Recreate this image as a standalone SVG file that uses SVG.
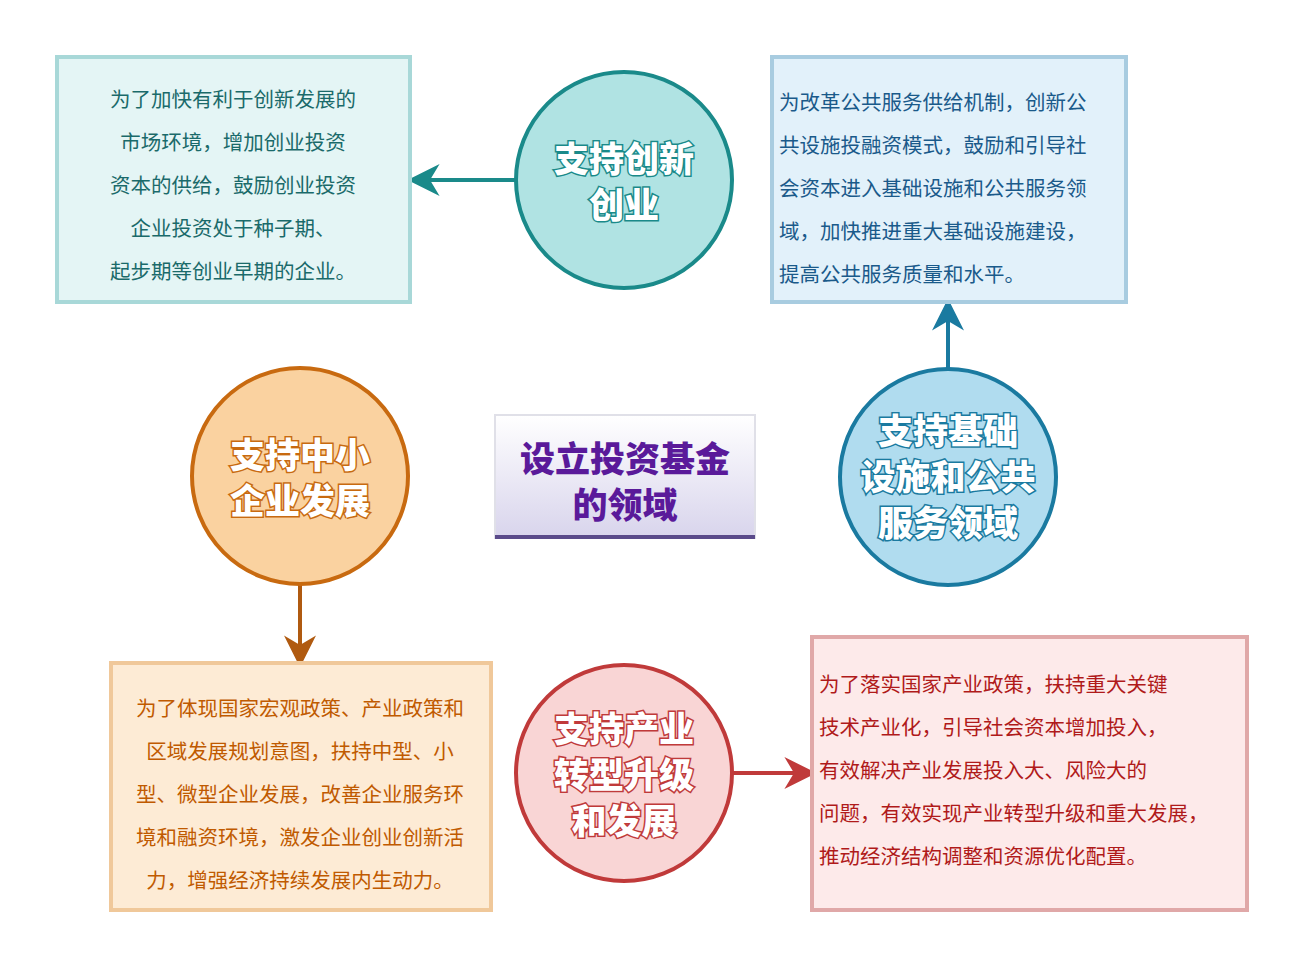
<svg xmlns="http://www.w3.org/2000/svg" width="1301" height="964" viewBox="0 0 1301 964">
<style>
.bt{font-family:"Noto Sans CJK SC","Liberation Serif",serif;font-size:20.5px}
.ct{font-family:"Noto Sans CJK SC",sans-serif;font-size:35px;font-weight:900;fill:#fff;stroke-width:3;paint-order:stroke;text-anchor:middle}
</style>
<defs>
<linearGradient id="gc" x1="0" y1="0" x2="0" y2="1"><stop offset="0" stop-color="#fff"/><stop offset="1" stop-color="#d8d4ec"/></linearGradient>
<marker id="m1" viewBox="0 0 10 10" refX="8" refY="5" markerWidth="8" markerHeight="8" orient="auto"><path d="M0 0L10 5L0 10L3 5z" fill="#1a8a8a"/></marker>
<marker id="m2" viewBox="0 0 10 10" refX="8" refY="5" markerWidth="8" markerHeight="8" orient="auto"><path d="M0 0L10 5L0 10L3 5z" fill="#1a7aa0"/></marker>
<marker id="m3" viewBox="0 0 10 10" refX="8" refY="5" markerWidth="8" markerHeight="8" orient="auto"><path d="M0 0L10 5L0 10L3 5z" fill="#b05a10"/></marker>
<marker id="m4" viewBox="0 0 10 10" refX="8" refY="5" markerWidth="8" markerHeight="8" orient="auto"><path d="M0 0L10 5L0 10L3 5z" fill="#c03a3a"/></marker>
</defs>
<rect width="1301" height="964" fill="#fff"/>
<g id="connectors" stroke-width="4" fill="none">
<line x1="516" y1="180" x2="414" y2="180" stroke="#1a8a8a" marker-end="url(#m1)"/>
<line x1="948" y1="368" x2="948" y2="305" stroke="#1a7aa0" marker-end="url(#m2)"/>
<line x1="300" y1="585" x2="300" y2="661" stroke="#b05a10" marker-end="url(#m3)"/>
<line x1="733" y1="773" x2="810" y2="773" stroke="#c03a3a" marker-end="url(#m4)"/>
</g>
<g id="box1"><rect x="57" y="57" width="353" height="245" fill="#e4f5f5" stroke="#a8d8d8" stroke-width="4"/>
<g class="bt" fill="#1a6a6a" text-anchor="middle"><text x="233" y="107">为了加快有利于创新发展的</text><text x="233" y="150">市场环境，增加创业投资</text><text x="233" y="193">资本的供给，鼓励创业投资</text><text x="233" y="236">企业投资处于种子期、</text><text x="233" y="279">起步期等创业早期的企业。</text></g></g>
<g id="c1"><circle cx="624" cy="180" r="108" fill="#b0e3e3" stroke="#1a8a8a" stroke-width="4"/>
<text class="ct" stroke="#1a8a8a" x="624" y="172">支持创新</text><text class="ct" stroke="#1a8a8a" x="624" y="218">创业</text></g>
<g id="box2"><rect x="772" y="57" width="354" height="245" fill="#e2f1fa" stroke="#a8cce0" stroke-width="4"/>
<g class="bt" fill="#1a5a8a"><text x="779" y="110">为改革公共服务供给机制，创新公</text><text x="779" y="153">共设施投融资模式，鼓励和引导社</text><text x="779" y="196">会资本进入基础设施和公共服务领</text><text x="779" y="239">域，加快推进重大基础设施建设，</text><text x="779" y="282">提高公共服务质量和水平。</text></g></g>
<g id="c2"><circle cx="948" cy="477" r="108" fill="#b0dcef" stroke="#1a7aa0" stroke-width="4"/>
<text class="ct" stroke="#1a7aa0" x="948" y="444">支持基础</text><text class="ct" stroke="#1a7aa0" x="948" y="490">设施和公共</text><text class="ct" stroke="#1a7aa0" x="948" y="536">服务领域</text></g>
<g id="center"><rect x="495" y="415" width="260" height="123" fill="url(#gc)" stroke="#e0e0e8" stroke-width="2"/><line x1="495" y1="537" x2="755" y2="537" stroke="#5a4a8a" stroke-width="4"/>
<text x="625" y="472" font-family="Noto Sans CJK SC,sans-serif" font-size="35" font-weight="900" fill="#5a1a9a" text-anchor="middle">设立投资基金</text><text x="625" y="518" font-family="Noto Sans CJK SC,sans-serif" font-size="35" font-weight="900" fill="#5a1a9a" text-anchor="middle">的领域</text></g>
<g id="c3"><circle cx="300" cy="476" r="108" fill="#fad2a0" stroke="#c86a10" stroke-width="4"/>
<text class="ct" stroke="#c86a10" x="300" y="468">支持中小</text><text class="ct" stroke="#c86a10" x="300" y="514">企业发展</text></g>
<g id="box3"><rect x="111" y="663" width="380" height="247" fill="#fdebd5" stroke="#f0c89a" stroke-width="4"/>
<g class="bt" fill="#c05a00" text-anchor="middle"><text x="300" y="716">为了体现国家宏观政策、产业政策和</text><text x="300" y="759">区域发展规划意图，扶持中型、小</text><text x="300" y="802">型、微型企业发展，改善企业服务环</text><text x="300" y="845">境和融资环境，激发企业创业创新活</text><text x="300" y="888">力，增强经济持续发展内生动力。</text></g></g>
<g id="c4"><circle cx="624" cy="773" r="108" fill="#f9d5d5" stroke="#c03a3a" stroke-width="4"/>
<text class="ct" stroke="#c03a3a" x="624" y="742">支持产业</text><text class="ct" stroke="#c03a3a" x="624" y="788">转型升级</text><text class="ct" stroke="#c03a3a" x="624" y="834">和发展</text></g>
<g id="box4"><rect x="812" y="637" width="435" height="273" fill="#fdeaea" stroke="#e0a8a8" stroke-width="4"/>
<g class="bt" fill="#b01a1a"><text x="819" y="692">为了落实国家产业政策，扶持重大关键</text><text x="819" y="735">技术产业化，引导社会资本增加投入，</text><text x="819" y="778">有效解决产业发展投入大、风险大的</text><text x="819" y="821">问题，有效实现产业转型升级和重大发展，</text><text x="819" y="864">推动经济结构调整和资源优化配置。</text></g></g>
</svg>
